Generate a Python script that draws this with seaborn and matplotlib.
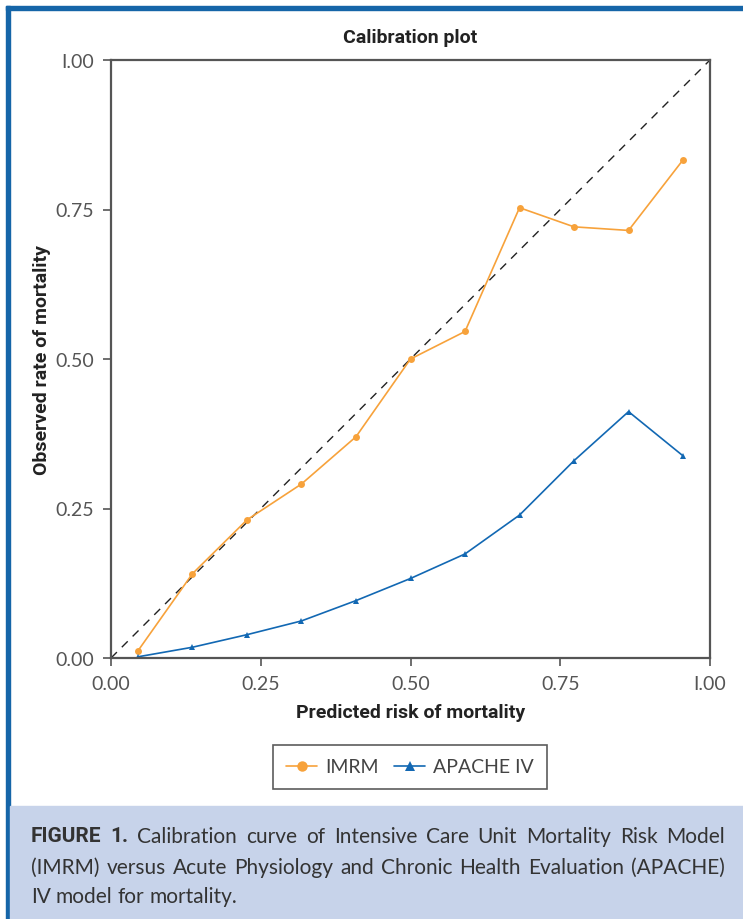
import matplotlib
matplotlib.use("Agg")
import matplotlib.pyplot as plt
import seaborn as sns
import pandas as pd
from matplotlib.patches import Rectangle

# predicted risk (bin centres) and observed rates
predicted = [0.045, 0.136, 0.227, 0.318, 0.409, 0.500, 0.591, 0.682, 0.773, 0.864, 0.955]
imrm = [0.012, 0.141, 0.231, 0.291, 0.370, 0.500, 0.546, 0.753, 0.721, 0.715, 0.833]
apache = [0.002, 0.018, 0.039, 0.062, 0.096, 0.133, 0.174, 0.239, 0.330, 0.412, 0.338]

model_names = ["IMRM", "APACHE IV"]
tick_labels = ["0.00", "0.25", "0.50", "0.75", "I.00"]
caption_lines = [
    "Calibration curve of Intensive Care Unit Mortality Risk Model",
    "(IMRM) versus Acute Physiology and Chronic Health Evaluation (APACHE)",
    "IV model for mortality.",
]

df = pd.DataFrame({
    "predicted": predicted * 2,
    "observed": imrm + apache,
    "model": [model_names[0]] * len(imrm) + [model_names[1]] * len(apache),
})

sns.set_style("ticks")
plt.rcParams["font.family"] = ["Lato", "DejaVu Sans"]

orange = "#f7a23b"
blue = "#1268b3"
grey = "#555555"
cond = ["Roboto", "DejaVu Sans"]

fig = plt.figure(figsize=(7.43, 9.2), dpi=100)
ax = fig.add_axes([111 / 743, 1 - 659 / 920, 599 / 743, 598 / 920])

# diagonal = perfect calibration
ax.plot([0, 1], [0, 1], color="#222222", lw=1.0, dashes=(6, 5))

sns.lineplot(data=df, x="predicted", y="observed", hue="model", style="model",
             palette=[orange, blue], markers=["o", "^"], dashes=False,
             markersize=5, markeredgewidth=0, linewidth=1.2, ax=ax)

ax.set_xlim(0, 1)
ax.set_ylim(0, 1)
ticks = [0, 0.25, 0.5, 0.75, 1.0]
ax.set_xticks(ticks)
ax.set_yticks(ticks)
ax.set_xticklabels(tick_labels)
ax.set_yticklabels(tick_labels)
ax.tick_params(length=6, width=1.2, color=grey, labelsize=14, labelcolor="#555555", pad=6)
for sp in ax.spines.values():
    sp.set_visible(True)
    sp.set_color(grey)
    sp.set_linewidth(1.6)

ax.set_xlabel("Predicted risk of mortality", fontsize=14, fontweight="bold",
              family=cond, color="#222222", labelpad=8)
ax.set_ylabel("Observed rate of mortality", fontsize=14, fontweight="bold",
              family=cond, color="#222222", labelpad=3)
ax.set_title("Calibration plot", fontsize=14, fontweight="bold", family=cond,
             color="#222222", pad=13)

handles, labels = ax.get_legend_handles_labels()
ax.legend_.remove()
leg = fig.legend(handles, labels, loc="center", bbox_to_anchor=(410 / 743, 1 - 768 / 920),
                 ncol=2, frameon=True, fancybox=False, fontsize=14, handlelength=1.6,
                 columnspacing=0.8, handletextpad=0.4, borderpad=0.7, markerscale=1.5)
leg.get_frame().set_edgecolor("#333333")
leg.get_frame().set_linewidth(1.2)
for t in leg.get_texts():
    t.set_color("#444444")

# frame: blue border at top/left and the caption panel
fig.patches.append(Rectangle((6 / 743, 1 - 11 / 920), 737 / 743, 4 / 920,
                             transform=fig.transFigure, color="#1565a8", zorder=0))
fig.patches.append(Rectangle((6 / 743, 0), 4 / 743, 1 - 7 / 920,
                             transform=fig.transFigure, color="#1565a8", zorder=0))
fig.patches.append(Rectangle((10 / 743, 0), 733 / 743, 113 / 920,
                             transform=fig.transFigure, color="#c7d3ea", zorder=0))

# caption, first two lines justified
renderer = fig.canvas.get_renderer()
x_left, x_right = 31, 725
line_y = [837, 868, 897]
cap_kw = dict(fontsize=15, color="#333333", va="center", ha="left")


def put_words(words, y, bold_first=False):
    items = []
    for i, w in enumerate(words):
        if bold_first and i < 2:
            t = fig.text(0, 1 - y / 920, w, fontweight="bold", family=cond, **cap_kw)
        else:
            t = fig.text(0, 1 - y / 920, w, **cap_kw)
        items.append(t)
    widths = [t.get_window_extent(renderer).width for t in items]
    return items, widths


for k, line in enumerate(caption_lines):
    words = line.split()
    bold = k == 0
    if bold:
        words = ["FIGURE", "1."] + words
    items, widths = put_words(words, line_y[k], bold_first=bold)
    if k < 2:
        gap = (x_right - x_left - sum(widths)) / (len(words) - 1)
    else:
        gap = 5
    x = x_left
    for t, w in zip(items, widths):
        t.set_x(x / 743)
        x += w + gap

fig.savefig("out.png", dpi=100)
